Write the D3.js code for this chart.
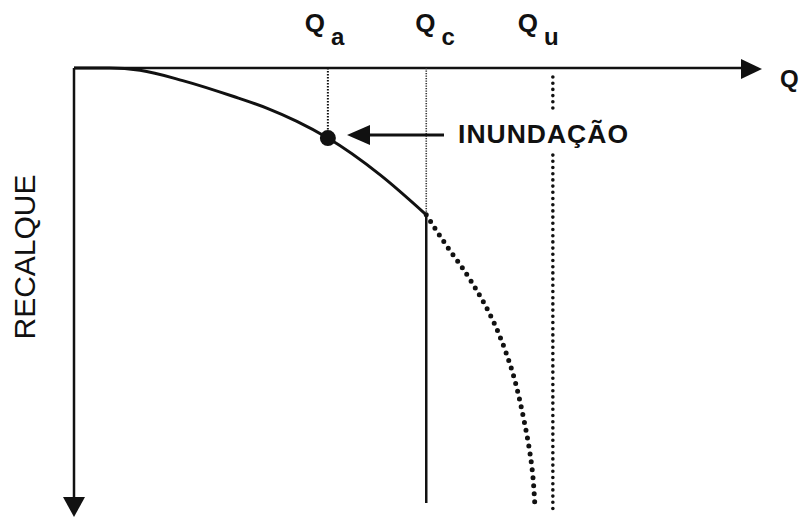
<!DOCTYPE html>
<html>
<head>
<meta charset="utf-8">
<script src="https://cdn.jsdelivr.net/npm/d3@7"></script>
<style>
  body { margin: 0; background: #fff; }
  text { font-family: "Liberation Sans", Arial, sans-serif; fill: #111; }
</style>
</head>
<body>
<div id="wrapper"></div>
<script>
// load (Q) and settlement (recalque), in arbitrary units 0-100
const measuredLoad   = [0, 5.2, 9.6, 15.8, 23.1, 28.1, 32.4, 36.9, 44.5, 51.2]
const measuredSettle = [0, 0, 0.5, 2.8, 6.3, 9.0, 11.9, 15.6, 23.8, 32.7]

const extrapLoad   = [51.2, 53.9, 57.1, 60.5, 63.4, 65.4, 66.6, 67.0]
const extrapSettle = [32.7, 39.0, 46.0, 55.0, 66.1, 78.4, 89.5, 97.8]

const qSubs   = ["a", "c", "u"]
const qValues = [36.9, 51.2, 69.6]

const floodLoad = 36.9   // INUNDAÇÃO point
const floodSettle = 15.6

let dimensions = {
    width: 805,
    height: 518,
    margin: { top: 68, right: 43, bottom: 1, left: 74 }
}

const x = d3.scaleLinear()
    .domain([0, 100])
    .range([dimensions.margin.left, dimensions.width - dimensions.margin.right])

const y = d3.scaleLinear()
    .domain([0, 100])
    .range([dimensions.margin.top, dimensions.height - dimensions.margin.bottom])

const svg = d3.select("#wrapper")
    .append("svg")
    .attr("width", dimensions.width)
    .attr("height", dimensions.height)

const ink = "#111"

// axes
const ax = svg.append("g")
ax.append("line")
    .attr("x1", x(0)).attr("x2", x(100) - 18)
    .attr("y1", y(0)).attr("y2", y(0))
    .attr("stroke", ink).attr("stroke-width", 2.5)
ax.append("path")
    .attr("d", `M${x(100)},${y(0) + 1}L${x(100) - 21},${y(0) - 9}L${x(100) - 21},${y(0) + 11}Z`)
    .attr("fill", ink)
ax.append("line")
    .attr("x1", x(0)).attr("x2", x(0))
    .attr("y1", y(0)).attr("y2", y(100) - 18)
    .attr("stroke", ink).attr("stroke-width", 2.5)
ax.append("path")
    .attr("d", `M${x(0)},${y(100)}L${x(0) - 11},${y(100) - 20}L${x(0) + 11},${y(100) - 20}Z`)
    .attr("fill", ink)

ax.append("text")
    .attr("x", 780).attr("y", 87)
    .attr("font-size", 24).attr("font-weight", "bold")
    .text("Q")

ax.append("text")
    .attr("transform", `translate(35,257) rotate(-90)`)
    .attr("text-anchor", "middle")
    .attr("font-size", 30)
    .text("RECALQUE")

// Q labels on top
const labelShift = [-23, -11, -35]
const qLabel = svg.append("g").selectAll("text")
    .data(qValues)
    .join("text")
    .attr("x", (d, i) => x(d) + labelShift[i])
    .attr("y", 32)
    .attr("font-weight", "bold")
qLabel.append("tspan").attr("font-size", 26).text("Q")
qLabel.append("tspan")
    .attr("font-size", 24)
    .attr("dx", 6)
    .attr("dy", 13)
    .text((d, i) => qSubs[i])

// reference verticals
svg.append("line")
    .attr("x1", x(qValues[0])).attr("x2", x(qValues[0]))
    .attr("y1", y(0)).attr("y2", y(floodSettle))
    .attr("stroke", ink).attr("stroke-width", 2)
    .attr("stroke-dasharray", "1.5 1.5")
svg.append("line")
    .attr("x1", x(qValues[1])).attr("x2", x(qValues[1]))
    .attr("y1", y(0)).attr("y2", y(measuredSettle[measuredSettle.length - 1]))
    .attr("stroke", "#333").attr("stroke-width", 1.6)
    .attr("stroke-dasharray", "1.2 1.3")
svg.append("line")
    .attr("x1", x(qValues[1])).attr("x2", x(qValues[1]))
    .attr("y1", y(measuredSettle[measuredSettle.length - 1])).attr("y2", y(96.9))
    .attr("stroke", ink).attr("stroke-width", 2.5)

// Qu dotted, interrupted by the label
const quSegments = [[2, 10], [19.4, 98.4]]
svg.append("g").selectAll("line")
    .data(quSegments)
    .join("line")
    .attr("x1", x(qValues[2])).attr("x2", x(qValues[2]))
    .attr("y1", d => y(d[0])).attr("y2", d => y(d[1]))
    .attr("stroke", ink).attr("stroke-width", 3.6)
    .attr("stroke-linecap", "round")
    .attr("stroke-dasharray", "0 6.2")

// load-settlement curve
const line = d3.line()
    .x(d => x(d[0]))
    .y(d => y(d[1]))
    .curve(d3.curveMonotoneX)

svg.append("path")
    .datum(d3.zip(measuredLoad, measuredSettle))
    .attr("d", line)
    .attr("fill", "none")
    .attr("stroke", ink).attr("stroke-width", 3)

svg.append("path")
    .datum(d3.zip(extrapLoad, extrapSettle))
    .attr("d", line.curve(d3.curveMonotoneY))
    .attr("fill", "none")
    .attr("stroke", ink).attr("stroke-width", 5)
    .attr("stroke-linecap", "round")
    .attr("stroke-dasharray", "0 8")

svg.append("circle")
    .attr("cx", x(floodLoad)).attr("cy", y(floodSettle))
    .attr("r", 8)
    .attr("fill", ink)

// annotation arrow
const ay = y(floodSettle) - 3
svg.append("line")
    .attr("x1", 444).attr("x2", 366)
    .attr("y1", ay).attr("y2", ay)
    .attr("stroke", ink).attr("stroke-width", 3)
svg.append("path")
    .attr("d", `M347,${ay}L370,${ay - 10}L370,${ay + 10}Z`)
    .attr("fill", ink)
svg.append("text")
    .attr("x", 458).attr("y", 143)
    .attr("font-size", 26.5).attr("font-weight", "bold")
    .attr("textLength", 170).attr("lengthAdjust", "spacing")
    .text("INUNDAÇÃO")
</script>
</body>
</html>
